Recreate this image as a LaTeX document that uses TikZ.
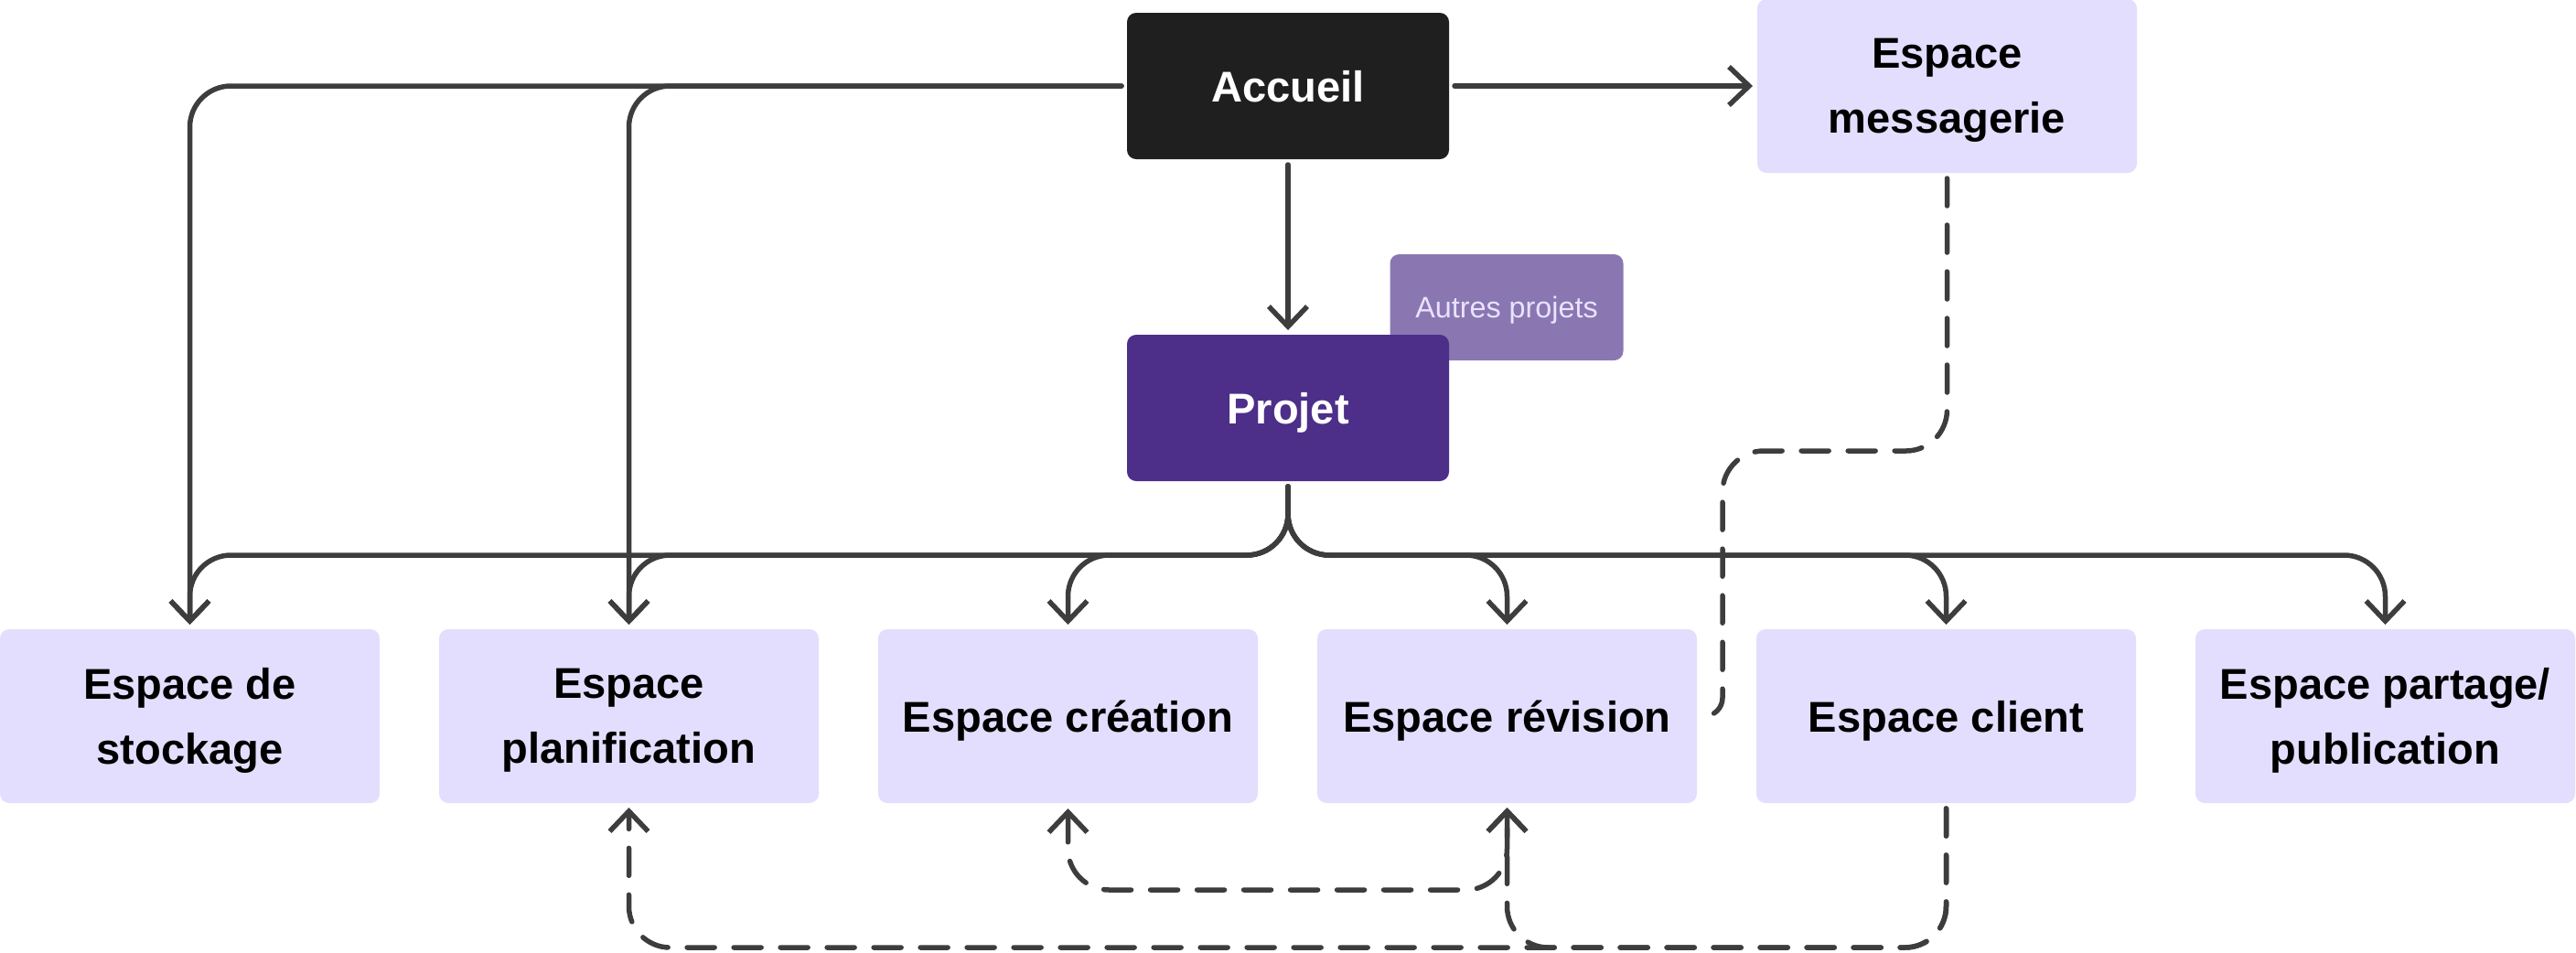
\documentclass[tikz,border=0pt]{standalone}
\usepackage{fontspec}
\setmainfont{Liberation Sans}
\usetikzlibrary{arrows.meta, positioning, calc}
\definecolor{lav}{HTML}{E3DEFD}
\definecolor{ink}{HTML}{1F1F1F}
\definecolor{plum}{HTML}{4D2E89}
\definecolor{mauve}{HTML}{8A77B2}
\definecolor{ln}{HTML}{3D3D3D}

\begin{document}
\begin{tikzpicture}[
      node distance=0.65cm,
      box/.style={fill=lav, rounded corners=0.1cm, align=center, minimum width=4.15cm, minimum height=1.9cm, inner sep=0pt, outer sep=0pt, text depth=0pt, font=\fontsize{13.4}{20.2}\selectfont\bfseries},
      top/.style={box, minimum width=3.52cm, minimum height=1.6cm, text=white},
      ar/.style={-{Straight Barb[length=0.22cm, width=0.42cm]}, draw=ln, line width=0.055cm, line cap=round, line join=round, rounded corners=0.45cm, shorten >=0.05cm, shorten <=0.06cm},
      dsh/.style={ar, dash pattern=on 0.3cm off 0.21cm}
    ]
    \useasboundingbox (0,0) rectangle (28.16,-10.41);
    \node[top, fill=ink] (acc) at (14.08,-0.94) {Accueil};
    \node[box, right=3.37cm of acc] (msg) {Espace\\messagerie};
    \node[box, fill=mauve, minimum width=2.55cm, minimum height=1.16cm, text=lav!85!white, font=\fontsize{9.2}{11}\selectfont] (oth) at (16.47,-3.36) {Autres projets};
    \node[top, fill=plum, below=1.92cm of acc] (proj) {Projet};
    \node[box] (stock) at (2.075,-7.83) {Espace de\\stockage};
    \node[box, right=of stock] (plan) {Espace\\planification};
    \node[box, right=of plan] (cre) {Espace création};
    \node[box, right=of cre] (rev) {Espace révision};
    \node[box, right=of rev] (cli) {Espace client};
    \node[box, right=of cli] (part) {Espace partage/\\publication};
    \coordinate (bus) at ($(proj.south)+(0,-0.81)$);
    \coordinate (msgbend) at ($(rev.east)+(0.28,0)$);
    \draw[ar] (acc) -- (msg); \draw[ar] (acc) -- (proj);
    \draw[ar] (acc.west) -| (stock.north); \draw[ar] (acc.west) -| (plan.north);
    \foreach \b in {stock, plan, cre, rev, cli, part}
      \draw[ar] (proj.south) |- (bus -| \b.north) -- (\b.north);
    \draw[dsh, -] (msg.south) |- ($(msgbend)+(0,2.90)$) [rounded corners=0.2cm] -- (msgbend) -- (rev.east);
    \draw[dsh] (cli.south) -- ++(0,-1.58) -| (plan.south);
    \draw[dsh] (cli.south) -- ++(0,-1.58) -| (rev.south);
    \draw[dsh, {Straight Barb[length=0.22cm, width=0.42cm]}-{Straight Barb[length=0.22cm, width=0.42cm]}] (cre.south) -- ++(0,-0.95) -| (rev.south);
  \end{tikzpicture}
\end{document}
